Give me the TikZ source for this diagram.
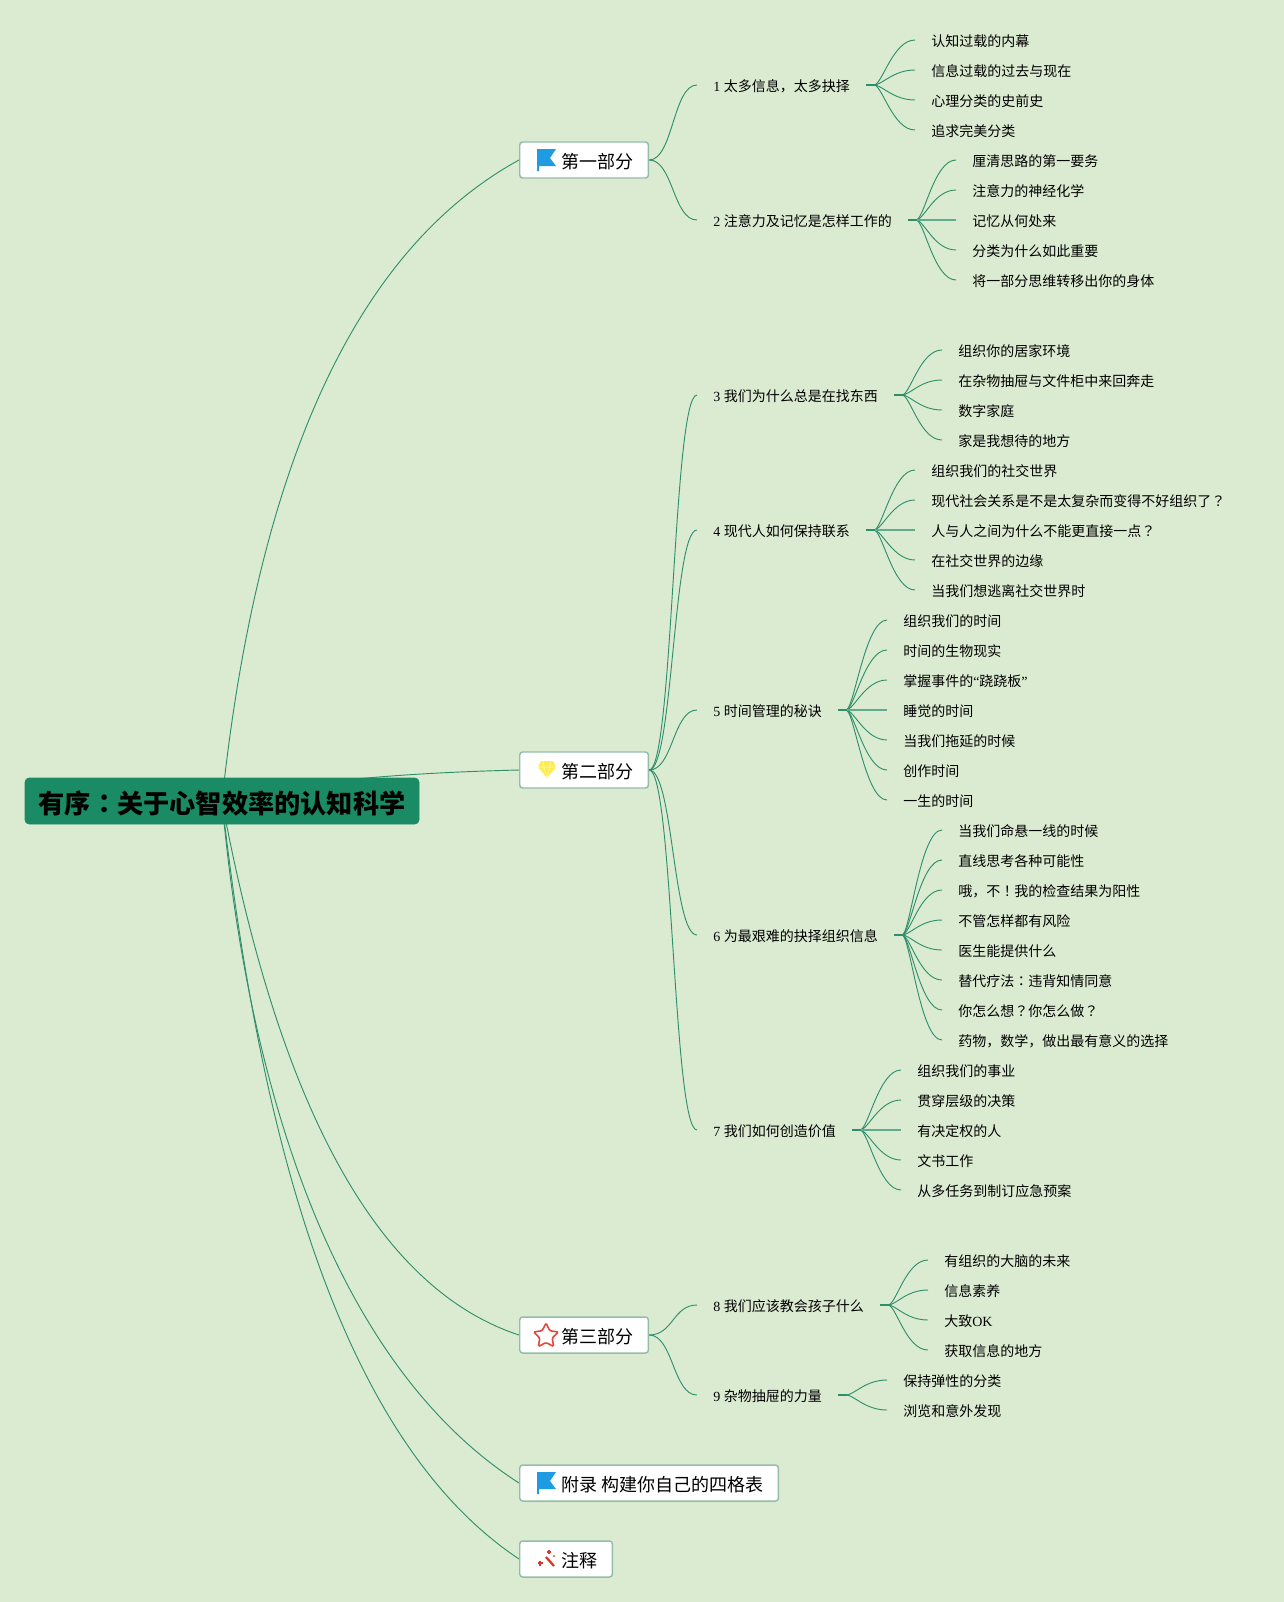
\documentclass[tikz,border=0pt]{standalone}
\usepackage{fontspec}
\setmainfont{Noto Sans CJK SC}
\newfontfamily\serif{Liberation Serif}
\newfontfamily\midpunct{Noto Sans CJK TC}
\usetikzlibrary{
    arrows.meta,
    backgrounds,
    shapes.geometric
}
\definecolor{paper}{HTML}{DBEBD1}
\definecolor{branch}{HTML}{2F8F6B}
\definecolor{rootfill}{HTML}{1B8B66}
\definecolor{secline}{HTML}{93BDA8}
\definecolor{flagblue}{HTML}{1E9BE2}
\definecolor{gemyellow}{HTML}{FFEC4F}
\definecolor{gemline}{HTML}{FFF8B0}
\definecolor{starred}{HTML}{E5483A}
\definecolor{wandred}{HTML}{D8352B}
\newcommand\seclabel[1]{\hspace{20.5pt}#1}
\tikzset{%
   rootbox/.style={
      fill=rootfill,
      draw=rootfill,
      rounded corners=3pt,
      minimum width=295.5pt,
      minimum height=34.5pt,
      inner sep=0pt,
      text height=21.4pt,
      text depth=2.3pt,
      font=\fontsize{19.65}{22}\bfseries\selectfont
   },
   secbox/.style={
      anchor=west,
      fill=white,
      draw=secline,
      line width=1.1pt,
      rounded corners=2.2pt,
      minimum height=27pt,
      inner xsep=11pt,
      inner ysep=0pt,
      text height=14.3pt,
      text depth=1.6pt,
      font=\fontsize{13.5}{16}\selectfont
   },
   chap/.style={
      anchor=west,
      inner xsep=12pt,
      inner ysep=0pt,
      text height=1.14em,
      text depth=.12em,
      font=\fontsize{10.5}{12}\selectfont
   },
   leaf/.style={
      chap
   },
   link/.style={
      draw=branch,
      line width=.7pt
   },
   stub/.style={
      draw=branch,
      line width=1.4pt
   },
   fan/.style={
      link,
      to path={-- ++(8,0) .. controls +(8,0) and +(-22,0) .. (\tikztotarget)}
   },
   level/.style={
      draw=branch!75!white,
      line width=1pt
   },
   arm/.style={
      link,
      to path={.. controls +(24,0) and +(-24,0) .. (\tikztotarget)}
   },
   flagicon/.pic={
      \fill[fill=flagblue] (18,-11) -- (37,-11) -- (31,-2) -- (37,6) -- (20,6)
         -- (20,11) -- (18,11) -- cycle;
   },
   gemicon/.pic={
      \fill[gemyellow] (22,-9) -- (34,-9) -- (37,-3) -- (28,8) -- (19,-3) -- cycle;
      \draw[gemline,line width=.4pt] (19,-3) -- (37,-3) (24,-9) -- (25,-3) -- (28,8)
         -- (31,-3) -- (32,-9);
   },
   staricon/.pic={
      \node[star,star points=5,star point ratio=2.0,draw=starred,line width=1.2pt,
         rounded corners=1pt,minimum size=19.5pt,inner sep=0pt] (staricon) at (27,1) {};
   },
   wandicon/.pic={
      \draw[wandred,line width=1.7pt] (27,-2) -- (35,7);
      \draw[wandred,line width=.8pt] (21,1.5) -- (21,6.5) (18.5,4) -- (23.5,4);
      \draw[wandred,line width=.8pt] (30,-9) -- (30,-5) (28,-7) -- (32,-7);
      \fill[wandred] (35,-3) circle (1);
   }
}
\begin{document}
\begin{tikzpicture}[x=.75pt,y=-.75pt]
   \useasboundingbox (0,0) rectangle (1284,1602);
   % root and parts
   \node[rootbox] (root) at (222,801) {有序{\midpunct ：}关于心智效率的认知科学};
   \node[secbox] (sec1) at (519,160) {\seclabel{第一部分}};
   \node[secbox] (sec2) at (519,770) {\seclabel{第二部分}};
   \node[secbox] (sec3) at (519,1335) {\seclabel{第三部分}};
   \node[secbox] (sec4) at (519,1483) {\seclabel{附录 构建你自己的四格表}};
   \node[secbox] (sec5) at (519,1559) {\seclabel{注释}};
   \pic at (sec1.west) {flagicon};
   \pic at (sec2.west) {gemicon};
   \pic at (sec3.west) {staricon};
   \pic at (sec4.west) {flagicon};
   \pic at (sec5.west) {wandicon};
   % chapters
   \node[chap] (ch1) at (697,85) {{\serif 1 }太多信息，太多抉择};
   \node[chap] (ch2) at (697,220) {{\serif 2 }注意力及记忆是怎样工作的};
   \node[chap] (ch3) at (697,395) {{\serif 3 }我们为什么总是在找东西};
   \node[chap] (ch4) at (697,530) {{\serif 4 }现代人如何保持联系};
   \node[chap] (ch5) at (697,710) {{\serif 5 }时间管理的秘诀};
   \node[chap] (ch6) at (697,935) {{\serif 6 }为最艰难的抉择组织信息};
   \node[chap] (ch7) at (697,1130) {{\serif 7 }我们如何创造价值};
   \node[chap] (ch8) at (697,1305) {{\serif 8 }我们应该教会孩子什么};
   \node[chap] (ch9) at (697,1395) {{\serif 9 }杂物抽屉的力量};
   % chapter 1
   \node[leaf] (a1) at (915,40) {认知过载的内幕};
   \node[leaf] (a2) at (915,70) {信息过载的过去与现在};
   \node[leaf] (a3) at (915,100) {心理分类的史前史};
   \node[leaf] (a4) at (915,130) {追求完美分类};
   % chapter 2
   \node[leaf] (b1) at (956,160) {厘清思路的第一要务};
   \node[leaf] (b2) at (956,190) {注意力的神经化学};
   \node[leaf] (b3) at (956,220) {记忆从何处来};
   \node[leaf] (b4) at (956,250) {分类为什么如此重要};
   \node[leaf] (b5) at (956,280) {将一部分思维转移出你的身体};
   % chapter 3
   \node[leaf] (c1) at (942,350) {组织你的居家环境};
   \node[leaf] (c2) at (942,380) {在杂物抽屉与文件柜中来回奔走};
   \node[leaf] (c3) at (942,410) {数字家庭};
   \node[leaf] (c4) at (942,440) {家是我想待的地方};
   % chapter 4
   \node[leaf] (d1) at (915,470) {组织我们的社交世界};
   \node[leaf] (d2) at (915,500) {现代社会关系是不是太复杂而变得不好组织了{\midpunct ？}};
   \node[leaf] (d3) at (915,530) {人与人之间为什么不能更直接一点{\midpunct ？}};
   \node[leaf] (d4) at (915,560) {在社交世界的边缘};
   \node[leaf] (d5) at (915,590) {当我们想逃离社交世界时};
   % chapter 5
   \node[leaf] (e1) at (887,620) {组织我们的时间};
   \node[leaf] (e2) at (887,650) {时间的生物现实};
   \node[leaf] (e3) at (887,680) {掌握事件的{\serif “}跷跷板{\serif ”}};
   \node[leaf] (e4) at (887,710) {睡觉的时间};
   \node[leaf] (e5) at (887,740) {当我们拖延的时候};
   \node[leaf] (e6) at (887,770) {创作时间};
   \node[leaf] (e7) at (887,800) {一生的时间};
   % chapter 6
   \node[leaf] (f1) at (942,830) {当我们命悬一线的时候};
   \node[leaf] (f2) at (942,860) {直线思考各种可能性};
   \node[leaf] (f3) at (942,890) {哦，不{\midpunct ！}我的检查结果为阳性};
   \node[leaf] (f4) at (942,920) {不管怎样都有风险};
   \node[leaf] (f5) at (942,950) {医生能提供什么};
   \node[leaf] (f6) at (942,980) {替代疗法{\midpunct ：}违背知情同意};
   \node[leaf] (f7) at (942,1010) {你怎么想{\midpunct ？}你怎么做{\midpunct ？}};
   \node[leaf] (f8) at (942,1040) {药物，数学，做出最有意义的选择};
   % chapter 7
   \node[leaf] (g1) at (901,1070) {组织我们的事业};
   \node[leaf] (g2) at (901,1100) {贯穿层级的决策};
   \node[leaf] (g3) at (901,1130) {有决定权的人};
   \node[leaf] (g4) at (901,1160) {文书工作};
   \node[leaf] (g5) at (901,1190) {从多任务到制订应急预案};
   % chapter 8
   \node[leaf] (h1) at (928,1260) {有组织的大脑的未来};
   \node[leaf] (h2) at (928,1290) {信息素养};
   \node[leaf] (h3) at (928,1320) {大致{\serif OK}};
   \node[leaf] (h4) at (928,1350) {获取信息的地方};
   % chapter 9
   \node[leaf] (i1) at (887,1380) {保持弹性的分类};
   \node[leaf] (i2) at (887,1410) {浏览和意外发现};
   \begin{pgfonlayer}{background}
   \fill[paper] (0,0) rectangle (1284,1602);
   \draw[link] (root.center) .. controls (258,463) and (357,249) .. (sec1.west);
   \draw[link] (root.center) .. controls (300,781) and (400,773) .. (sec2.west);
   \draw[link] (root.center) .. controls (280,1111) and (379,1289) .. (sec3.west);
   \draw[link] (root.center) .. controls (248,1090) and (335,1365) .. (sec4.west);
   \draw[link] (root.center) .. controls (255,1090) and (325,1430) .. (sec5.west);
   \end{pgfonlayer}
   \draw[arm] (sec1.east) to (ch1.west);
   \draw[arm] (sec1.east) to (ch2.west);
   \draw[arm] (sec2.east) to (ch3.west);
   \draw[arm] (sec2.east) to (ch4.west);
   \draw[arm] (sec2.east) to (ch5.west);
   \draw[arm] (sec2.east) to (ch6.west);
   \draw[arm] (sec2.east) to (ch7.west);
   \draw[arm] (sec3.east) to (ch8.west);
   \draw[arm] (sec3.east) to (ch9.west);
   \foreach \kid in {a1,a2,a3,a4} \draw[fan] (ch1.east) to (\kid.west);
   \foreach \kid in {b1,b2,b4,b5} \draw[fan] (ch2.east) to (\kid.west);
   \draw[fan,level] (ch2.east) to (b3.west);
   \foreach \kid in {c1,c2,c3,c4} \draw[fan] (ch3.east) to (\kid.west);
   \foreach \kid in {d1,d2,d4,d5} \draw[fan] (ch4.east) to (\kid.west);
   \draw[fan,level] (ch4.east) to (d3.west);
   \foreach \kid in {e1,e2,e3,e5,e6,e7} \draw[fan] (ch5.east) to (\kid.west);
   \draw[fan,level] (ch5.east) to (e4.west);
   \foreach \kid in {f1,f2,f3,f4,f5,f6,f7,f8} \draw[fan] (ch6.east) to (\kid.west);
   \foreach \kid in {g1,g2,g4,g5} \draw[fan] (ch7.east) to (\kid.west);
   \draw[fan,level] (ch7.east) to (g3.west);
   \foreach \kid in {h1,h2,h3,h4} \draw[fan] (ch8.east) to (\kid.west);
   \foreach \kid in {i1,i2} \draw[fan] (ch9.east) to (\kid.west);
   \foreach \head in {ch1,ch2,ch3,ch4,ch5,ch6,ch7,ch8,ch9} \draw[stub] (\head.east) -- +(9,0);
\end{tikzpicture}
\end{document}
